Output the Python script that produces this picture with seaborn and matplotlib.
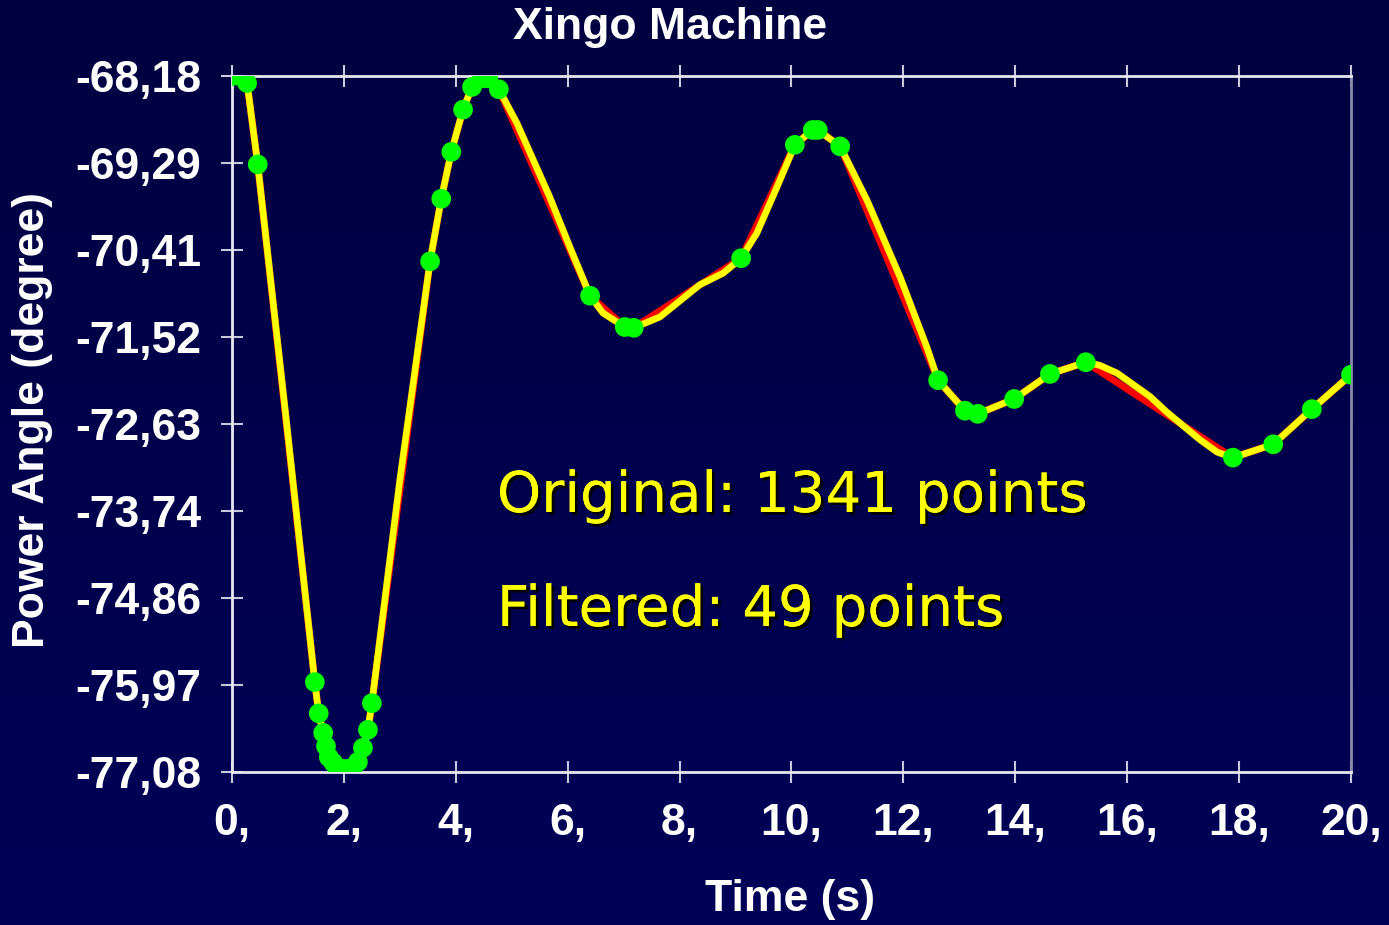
import numpy as np
import pandas as pd
import seaborn as sns
import matplotlib.pyplot as plt
import matplotlib.patheffects as pe

# filtered signal (49-point version)
filt_t = [0.00, 0.14, 0.27, 0.46, 1.48, 1.55, 1.63, 1.68, 1.73, 1.81, 1.88, 1.98,
          2.07, 2.16, 2.25, 2.34, 2.43, 2.50, 3.54, 3.74, 3.92, 4.13, 4.29, 4.47,
          4.58, 4.77, 6.40, 7.02, 7.18, 9.10, 10.06, 10.38, 10.47, 10.87, 12.62,
          13.10, 13.33, 13.98, 14.62, 15.26, 17.89, 18.61, 19.30, 20.00]
filt_y = [-68.18, -68.18, -68.27, -69.31, -75.93, -76.33, -76.58, -76.75, -76.89,
          -76.96, -77.03, -77.04, -77.04, -77.03, -76.95, -76.77, -76.54, -76.20,
          -70.55, -69.75, -69.15, -68.61, -68.32, -68.21, -68.21, -68.35, -70.99,
          -71.39, -71.40, -70.51, -69.06, -68.87, -68.87, -69.08, -72.07, -72.46,
          -72.50, -72.31, -71.99, -71.84, -73.06, -72.89, -72.44, -72.00]

# original signal, sampled along the smooth yellow curve
orig_t = [0.00, 0.14, 0.27, 0.46, 0.97, 1.48, 1.55, 1.63, 1.68, 1.73, 1.81, 1.88,
          1.98, 2.07, 2.16, 2.25, 2.34, 2.43, 2.50, 3.00, 3.54, 3.74, 3.92, 4.13,
          4.29, 4.47, 4.58, 4.77, 5.09, 5.68, 6.04, 6.40, 6.63, 7.02, 7.18, 7.65,
          8.36, 8.78, 9.10, 9.38, 9.74, 10.06, 10.38, 10.47, 10.87, 11.35, 11.94,
          12.42, 12.62, 13.10, 13.33, 13.98, 14.62, 15.26, 15.51, 15.82, 16.41,
          16.71, 17.30, 17.61, 17.89, 18.61, 19.30, 20.00]
orig_y = [-68.16, -68.18, -68.27, -69.31, -72.58, -75.93, -76.33, -76.58, -76.75,
          -76.89, -76.96, -77.03, -77.04, -77.04, -77.03, -76.95, -76.77, -76.54,
          -76.20, -73.35, -70.55, -69.75, -69.15, -68.61, -68.32, -68.19, -68.19,
          -68.35, -68.78, -69.73, -70.37, -70.99, -71.21, -71.39, -71.40, -71.26,
          -70.85, -70.70, -70.51, -70.19, -69.60, -69.06, -68.87, -68.87, -69.08,
          -69.77, -70.75, -71.65, -72.07, -72.46, -72.50, -72.31, -71.99, -71.84,
          -71.88, -71.98, -72.28, -72.48, -72.83, -72.99, -73.06, -72.89, -72.44,
          -72.00]

x_ticks = [0, 2, 4, 6, 8, 10, 12, 14, 16, 18, 20]
x_labels = ['0,', '2,', '4,', '6,', '8,', '10,', '12,', '14,', '16,', '18,', '20,']
y_ticks = [-77.08, -75.9675, -74.855, -73.7425, -72.63, -71.5175, -70.405, -69.2925, -68.18]
y_labels = ['-77,08', '-75,97', '-74,86', '-73,74', '-72,63', '-71,52', '-70,41', '-69,29', '-68,18']

filt = pd.DataFrame({'t': filt_t, 'angle': filt_y})
orig = pd.DataFrame({'t': orig_t, 'angle': orig_y})

sns.set_style('dark')
bold = {'family': ['Liberation Sans', 'DejaVu Sans'], 'weight': 'bold', 'color': 'white'}

fig = plt.figure(figsize=(13.89, 9.25), dpi=100)

# navy gradient background
bg = fig.add_axes([0, 0, 1, 1], zorder=-1)
grad = np.linspace(0, 1, 256).reshape(-1, 1)
bg.imshow(grad, aspect='auto', extent=[0, 1, 0, 1], origin='upper',
          cmap=plt.matplotlib.colors.LinearSegmentedColormap.from_list('navy', ['#000040', '#000058']))
bg.axis('off')

ax = fig.add_axes([232 / 1389, 1 - 772 / 925, (1351 - 232) / 1389, (772 - 76) / 925])
ax.set_facecolor('none')

sns.lineplot(data=filt, x='t', y='angle', color='#FF0000', lw=5, ax=ax, zorder=2)
sns.lineplot(data=orig, x='t', y='angle', color='#FFFF00', lw=4.2, ax=ax, zorder=3,
             path_effects=[pe.Stroke(linewidth=5, foreground='#E8C000'), pe.Normal()])
sns.scatterplot(data=filt, x='t', y='angle', color='#00FF00', s=200, edgecolor='none',
                ax=ax, zorder=4)

ax.set_xlim(0, 20)
ax.set_ylim(-77.08, -68.18)
ax.set_xticks(x_ticks)
ax.set_xticklabels(x_labels, fontdict={'size': 32, **bold})
ax.set_yticks(y_ticks)
ax.set_yticklabels(y_labels, fontdict={'size': 32, **bold})
ax.set_xlabel('')
ax.set_ylabel('')
ax.grid(False)
ax.tick_params(axis='both', direction='inout', length=16, width=1.5, colors='#C8C8DC')
ax.tick_params(axis='x', top=True, bottom=True, pad=14)
ax.tick_params(axis='y', left=True, right=False, pad=14)
for lab in ax.get_xticklabels() + ax.get_yticklabels():
    lab.set_color('white')

for side in ['top', 'bottom', 'left']:
    ax.spines[side].set_color('#E8E8F0')
    ax.spines[side].set_linewidth(2)
ax.spines['right'].set_color('#8888AA')
ax.spines['right'].set_linewidth(2)

fig.text(670 / 1389, 1 - 28 / 925, 'Xingo Machine', ha='center', va='center', size=32, **bold)
fig.text(790 / 1389, 1 - 900 / 925, 'Time (s)', ha='center', va='center', size=32, **bold)
fig.text(33 / 1389, 1 - 420 / 925, 'Power Angle (degree)', ha='center', va='center',
         rotation=90, size=32, **bold)

shadow = [pe.withSimplePatchShadow(offset=(2, -2), shadow_rgbFace='black', alpha=1), pe.Normal()]
fig.text(497 / 1389, 1 - 512 / 925, 'Original: 1341 points', ha='left', va='baseline',
         size=40.5, color='#FFFF00', family='DejaVu Sans', path_effects=shadow)
fig.text(497 / 1389, 1 - 626 / 925, 'Filtered: 49 points', ha='left', va='baseline',
         size=40.5, color='#FFFF00', family='DejaVu Sans', path_effects=shadow)

fig.savefig('out.png', dpi=100)
